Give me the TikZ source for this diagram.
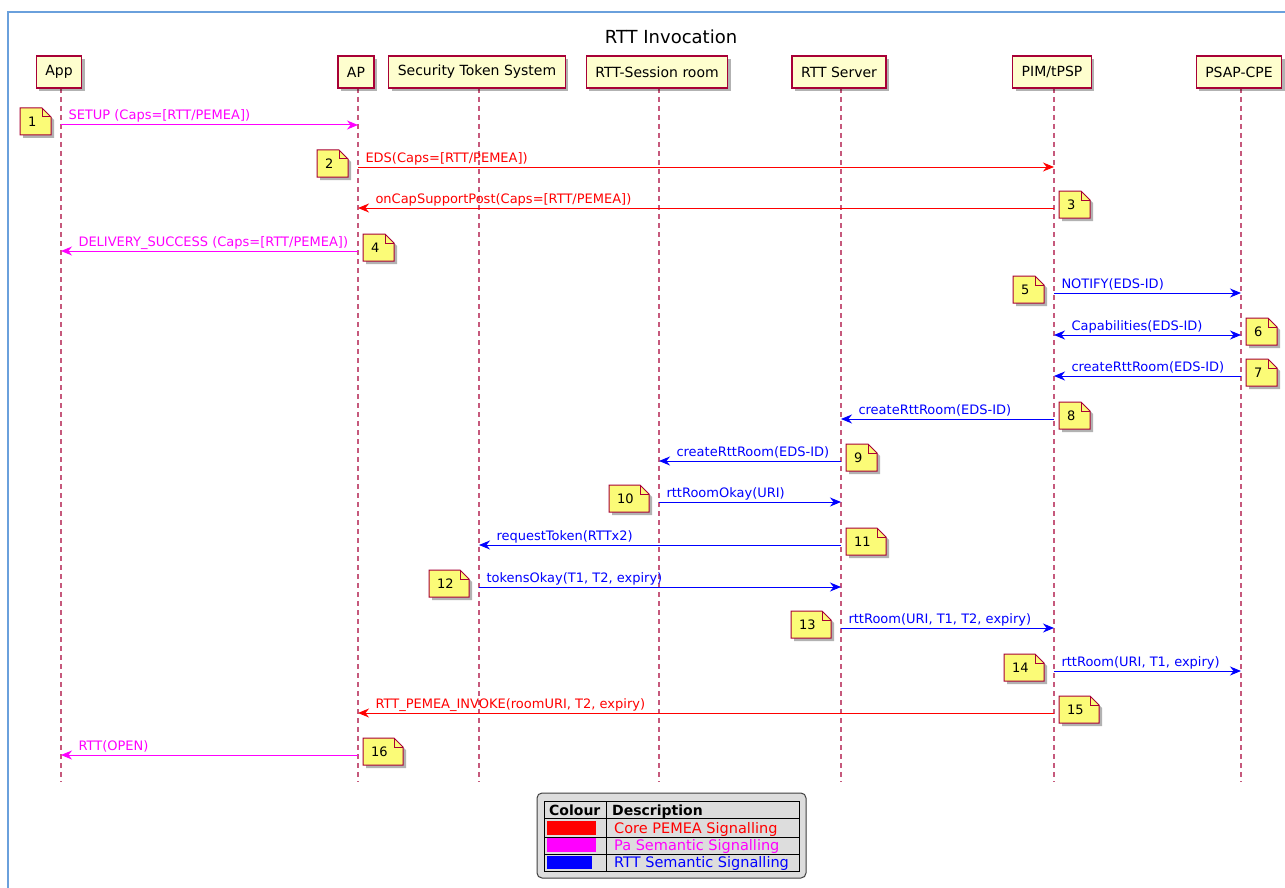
\documentclass[tikz,border=0pt]{standalone}
\usepackage{fontspec}
\setmainfont{DejaVu Sans}
\usetikzlibrary{arrows.meta,shadows}
\definecolor{plborder}{HTML}{A80036}
\definecolor{plfill}{HTML}{FEFECE}
\definecolor{notefill}{HTML}{FBFB77}
\definecolor{framec}{HTML}{6AA0DC}
\definecolor{legbg}{HTML}{DDDDDD}
\definecolor{mred}{HTML}{FF0000}
\definecolor{mmag}{HTML}{FF00FF}
\definecolor{mblue}{HTML}{0000FF}
\newcommand{\fs}[1]{\fontsize{#1}{#1}\selectfont}
\newcommand{\pnote}[5]{%
  \filldraw[notebox] (#2,#3) -- (#2+#4-9,#3) -- (#2+#4,#3+9) -- (#2+#4,#3+27) -- (#2,#3+27) -- cycle;
  \draw[plborder, line width=1pt] (#2+#4-9,#3) -- (#2+#4-9,#3+9) -- (#2+#4,#3+9);
  \node[notetext] (#1) at (#2+8,#3+14) {#5};}
\tikzset{
  part/.style={draw=plborder, fill=plfill, line width=1.3pt, minimum height=32pt, inner xsep=9pt, inner ysep=0pt,
    font=\fs{14}, drop shadow={shadow xshift=3pt, shadow yshift=-3pt, opacity=0.3, fill=black}},
  lifeline/.style={plborder!65!white, line width=1.2pt, dash pattern=on 5pt off 4pt},
  notebox/.style={fill=notefill, draw=plborder, line width=1pt, drop shadow={shadow xshift=3pt, shadow yshift=-3pt, opacity=0.3, fill=black}},
  notetext/.style={anchor=west, inner sep=0pt, font=\fs{13}},
  msg/.style={line width=1pt, -{Stealth[length=11pt, width=9pt, inset=3.5pt]}},
  bimsg/.style={line width=1pt, {Stealth[length=11pt, width=9pt, inset=3.5pt]}-{Stealth[length=11pt, width=9pt, inset=3.5pt]}},
  mlab/.style={anchor=base west, inner sep=0pt, font=\fs{13}, yshift=5pt},
  legtext/.style={anchor=base west, inner sep=0pt, font=\fs{14.5}},
}
\begin{document}
\begin{tikzpicture}[x=1pt,y=-1pt]
\useasboundingbox (0,0) rectangle (1285,888);
\fill[white] (0,0) rectangle (1285,888);
\begin{scope}
  \clip (0,0) rectangle (1285,888);
  \draw[framec, line width=1.5pt] (8,12) rectangle (1300,900);
\end{scope}

\node[anchor=base, inner sep=0pt, font=\fs{18}] (title) at (671,44) {RTT Invocation};

% lifelines
\foreach \n/\x in {app/61, ap/358, sts/479, room/659, srv/841, pim/1054, psap/1241}{
  \coordinate (L\n) at (\x,88);
  \coordinate (E\n) at (\x,782);
  \draw[lifeline] (L\n) -- (E\n);
}

% participants
\node[part] (app) at (59,72) {App};
\node[part] (ap) at (356,72) {AP};
\node[part] (sts) at (477,72) {Security Token System};
\node[part] (room) at (657,72) {RTT-Session room};
\node[part] (srv) at (839,72) {RTT Server};
\node[part] (pim) at (1052,72) {PIM/tPSP};
\node[part] (psap) at (1239,72) {PSAP-CPE};

% rows
\foreach \i/\y in {1/125,2/167,3/208,4/251,5/293,6/335,7/376,8/419,9/461,10/502,11/545,12/587,13/628,14/671,15/713,16/755}{
  \coordinate (r\i) at (0,\y);
}

% messages
\draw[msg, mmag] (Lapp |- r1) -- (Lap |- r1) node[mlab, text=mmag, pos=0, xshift=7pt] (m1) {SETUP (Caps=[RTT/PEMEA])};
\draw[msg, mred] (Lap |- r2) -- (Lpim |- r2) node[mlab, text=mred, pos=0, xshift=7pt] (m2) {EDS(Caps=[RTT/PEMEA])};
\draw[msg, mred] (Lpim |- r3) -- (Lap |- r3) node[mlab, text=mred, pos=1, xshift=17pt] (m3) {onCapSupportPost(Caps=[RTT/PEMEA])};
\draw[msg, mmag] (Lap |- r4) -- (Lapp |- r4) node[mlab, text=mmag, pos=1, xshift=17pt] (m4) {DELIVERY\_SUCCESS (Caps=[RTT/PEMEA])};
\draw[msg, mblue] (Lpim |- r5) -- (Lpsap |- r5) node[mlab, text=mblue, pos=0, xshift=7pt] (m5) {NOTIFY(EDS-ID)};
\draw[bimsg, mblue] (Lpim |- r6) -- (Lpsap |- r6) node[mlab, text=mblue, pos=0, xshift=17pt] (m6) {Capabilities(EDS-ID)};
\draw[msg, mblue] (Lpsap |- r7) -- (Lpim |- r7) node[mlab, text=mblue, pos=1, xshift=17pt] (m7) {createRttRoom(EDS-ID)};
\draw[msg, mblue] (Lpim |- r8) -- (Lsrv |- r8) node[mlab, text=mblue, pos=1, xshift=17pt] (m8) {createRttRoom(EDS-ID)};
\draw[msg, mblue] (Lsrv |- r9) -- (Lroom |- r9) node[mlab, text=mblue, pos=1, xshift=17pt] (m9) {createRttRoom(EDS-ID)};
\draw[msg, mblue] (Lroom |- r10) -- (Lsrv |- r10) node[mlab, text=mblue, pos=0, xshift=7pt] (m10) {rttRoomOkay(URI)};
\draw[msg, mblue] (Lsrv |- r11) -- (Lsts |- r11) node[mlab, text=mblue, pos=1, xshift=17pt] (m11) {requestToken(RTTx2)};
\draw[msg, mblue] (Lsts |- r12) -- (Lsrv |- r12) node[mlab, text=mblue, pos=0, xshift=7pt] (m12) {tokensOkay(T1, T2, expiry)};
\draw[msg, mblue] (Lsrv |- r13) -- (Lpim |- r13) node[mlab, text=mblue, pos=0, xshift=7pt] (m13) {rttRoom(URI, T1, T2, expiry)};
\draw[msg, mblue] (Lpim |- r14) -- (Lpsap |- r14) node[mlab, text=mblue, pos=0, xshift=7pt] (m14) {rttRoom(URI, T1, expiry)};
\draw[msg, mred] (Lpim |- r15) -- (Lap |- r15) node[mlab, text=mred, pos=1, xshift=17pt] (m15) {RTT\_PEMEA\_INVOKE(roomURI, T2, expiry)};
\draw[msg, mmag] (Lap |- r16) -- (Lapp |- r16) node[mlab, text=mmag, pos=1, xshift=17pt] (m16) {RTT(OPEN)};

% notes
\pnote{n1}{20}{108}{31}{1}
\pnote{n2}{317}{150}{31}{2}
\pnote{n3}{1059}{191}{31}{3}
\pnote{n4}{363}{234}{31}{4}
\pnote{n5}{1013}{276}{31}{5}
\pnote{n6}{1246}{318}{31}{6}
\pnote{n7}{1246}{359}{31}{7}
\pnote{n8}{1059}{402}{31}{8}
\pnote{n9}{846}{444}{31}{9}
\pnote{n10}{609}{485}{40}{10}
\pnote{n11}{846}{528}{40}{11}
\pnote{n12}{429}{570}{40}{12}
\pnote{n13}{791}{611}{40}{13}
\pnote{n14}{1004}{654}{40}{14}
\pnote{n15}{1059}{696}{40}{15}
\pnote{n16}{363}{738}{40}{16}

% legend
\draw[rounded corners=5pt, fill=legbg, draw=black!75, line width=1pt] (537,793) rectangle (806,878);
\draw[black, line width=0.9pt] (544,801) rectangle (799,871);
\draw[black, line width=0.9pt] (544,818) -- (799,818) (544,837) -- (799,837) (544,854) -- (799,854) (606,801) -- (606,871);
\fill[mred] (547,821) rectangle (596,835);
\fill[mmag] (547,838) rectangle (596,852);
\fill[mblue] (547,856) rectangle (592,869);
\node[legtext, font=\fs{14}\bfseries] (lh1) at (549,815) {Colour};
\node[legtext, font=\fs{14}\bfseries] (lh2) at (612,815) {Description};
\node[legtext, text=mred] (l1) at (614,833) {Core PEMEA Signalling};
\node[legtext, text=mmag] (l2) at (614,850) {Pa Semantic Signalling};
\node[legtext, text=mblue] (l3) at (614,867) {RTT Semantic Signalling};
\end{tikzpicture}
\end{document}
